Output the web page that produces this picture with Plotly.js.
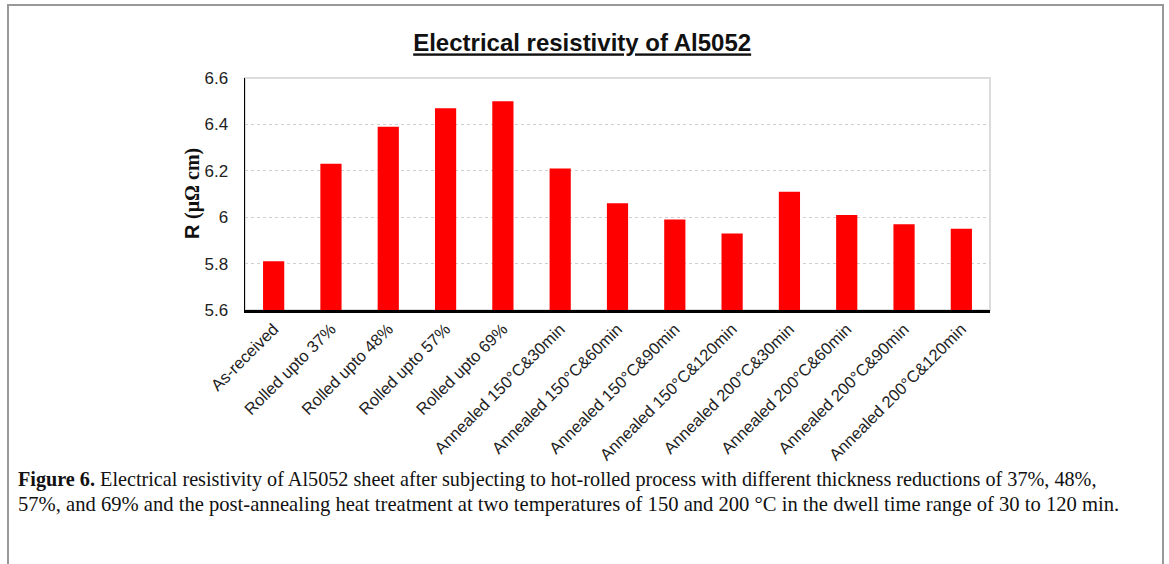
<!DOCTYPE html>
<html>
<head>
<meta charset="utf-8">
<script src="https://cdn.plot.ly/plotly-3.0.1.min.js"></script>
<style>html,body{margin:0;padding:0;background:#fff;}#chart{width:1169px;height:564px;}</style>
</head>
<body>
<div id="chart"></div>
<script>
var categories = [
  "As-received",
  "Rolled upto 37%",
  "Rolled upto 48%",
  "Rolled upto 57%",
  "Rolled upto 69%",
  "Annealed 150°C&30min",
  "Annealed 150°C&60min",
  "Annealed 150°C&90min",
  "Annealed 150°C&120min",
  "Annealed 200°C&30min",
  "Annealed 200°C&60min",
  "Annealed 200°C&90min",
  "Annealed 200°C&120min"
];
var resistivity = [5.81, 6.23, 6.39, 6.47, 6.50, 6.21, 6.06, 5.99, 5.93, 6.11, 6.01, 5.97, 5.95];
var yTicks = [5.6, 5.8, 6.0, 6.2, 6.4, 6.6];
var yTickText = ["5.6", "5.8", "6", "6.2", "6.4", "6.6"];
var chartTitle = "Electrical resistivity of Al5052";
var yTitle = 'R <span style="font-family:Liberation Serif">(μΩ cm)</span>';
var captionLine1 = "<b>Figure 6.</b> Electrical resistivity of Al5052 sheet after subjecting to hot-rolled process with different thickness reductions of 37%, 48%,";
var captionLine2 = "57%, and 69% and the post-annealing heat treatment at two temperatures of 150 and 200 °C in the dwell time range of 30 to 120 min.";

var W = 1169, H = 564;
var L = 245, R = 179, T = 78, B = 254;
var pw = W - L - R, ph = H - T - B;
function px2x(p){ return (p - L) / pw; }
function py2y(p){ return (H - B - p) / ph; }

var trace = {
  type: "bar",
  x: categories,
  y: resistivity,
  marker: {color: "#ff0000"},
  hoverinfo: "x+y"
};

var layout = {
  width: W, height: H,
  margin: {l: L, r: R, t: T, b: B, pad: 0},
  paper_bgcolor: "#ffffff",
  plot_bgcolor: "#ffffff",
  showlegend: false,
  bargap: 0.63,
  font: {family: "Liberation Sans, Arial, sans-serif", color: "#222"},
  title: {
    text: "<b><u>" + chartTitle + "</u></b>",
    font: {family: "Liberation Sans, Arial, sans-serif", size: 24, color: "#111"},
    xref: "container", yref: "container",
    x: 0.498, xanchor: "center",
    y: 1 - 43 / H, yanchor: "middle"
  },
  xaxis: {
    type: "category",
    tickangle: -45,
    tickfont: {size: 16.5, color: "#222"},
    showline: true, linecolor: "#000", linewidth: 3,
    showgrid: false, ticks: "", zeroline: false,
    automargin: false
  },
  yaxis: {
    range: [5.6, 6.6],
    tickvals: yTicks, ticktext: yTickText,
    tickfont: {size: 17, color: "#222"},
    ticklabelstandoff: 12,
    showline: true, linecolor: "#000", linewidth: 1.5,
    showgrid: true, gridcolor: "#cfcfcf", griddash: "dot", gridwidth: 1,
    zeroline: false, ticks: "", ticklen: 0,
    automargin: false
  },
  shapes: [
    {type: "rect", xref: "paper", yref: "paper", x0: 0, x1: 1, y0: 0, y1: 1,
     line: {color: "#dcdcdc", width: 2}, layer: "below"},
    {type: "rect", xref: "paper", yref: "paper",
     x0: px2x(8), x1: px2x(1163), y0: py2y(565), y1: py2y(5),
     line: {color: "#999999", width: 2}, layer: "above"}
  ],
  annotations: [
    {xref: "paper", yref: "paper", x: px2x(192), y: 0.5, xanchor: "center", yanchor: "middle",
     textangle: -90, showarrow: false, text: "<b>" + yTitle + "</b>",
     font: {family: "Liberation Sans, Arial, sans-serif", size: 20, color: "#111"}},
    {xref: "paper", yref: "paper", x: px2x(16), y: py2y(479), xanchor: "left", yanchor: "middle",
     showarrow: false, align: "left", text: captionLine1,
     font: {family: "Liberation Serif, Times New Roman, serif", size: 20.2, color: "#111"}},
    {xref: "paper", yref: "paper", x: px2x(16), y: py2y(504), xanchor: "left", yanchor: "middle",
     showarrow: false, align: "left", text: captionLine2,
     font: {family: "Liberation Serif, Times New Roman, serif", size: 20.6, color: "#111"}}
  ]
};

Plotly.newPlot("chart", [trace], layout, {displayModeBar: false, staticPlot: true});
</script>
</body>
</html>
